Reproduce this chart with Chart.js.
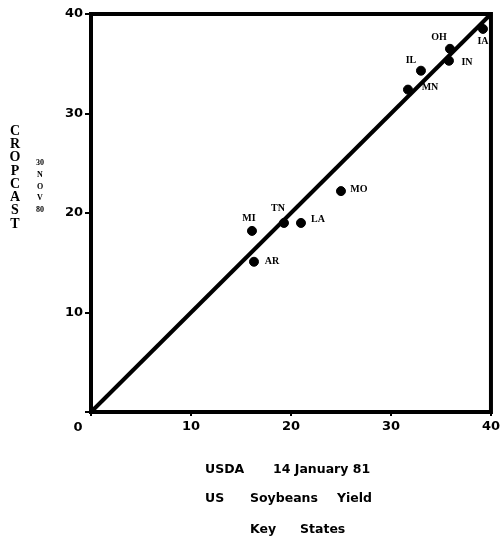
<!DOCTYPE html>
<html>
<head>
<meta charset="utf-8">
<script src="https://cdn.jsdelivr.net/npm/chart.js@4/dist/chart.umd.min.js"></script>
<style>
  html, body { margin: 0; padding: 0; background: #fff; }
  #wrap { width: 503px; height: 541px; }
</style>
</head>
<body>
<div id="wrap"><canvas id="chart" width="503" height="541"></canvas></div>
<script>
// Key states, USDA (14 Jan 81) vs CROPCAST (30 Nov 80) soybean yield
const states = ['IA', 'OH', 'IN', 'IL', 'MN', 'MO', 'TN', 'LA', 'MI', 'AR'];
const usdaYield = [39.2, 35.9, 35.8, 33.0, 31.7, 25.0, 19.3, 21.0, 16.1, 16.3];
const cropcastYield = [38.5, 36.5, 35.3, 34.3, 32.4, 22.2, 19.0, 19.0, 18.2, 15.1];
const axisTicks = [0, 10, 20, 30, 40];
const refLine = [0, 40];

// label placement relative to each dot (layout only)
const labelOffset = {
    IA: [0, 12], OH: [-11, -11], IN: [18, 2], IL: [-10, -10], MN: [22, -2],
    MO: [18, -2], TN: [-6, -15], LA: [17, -4], MI: [-3, -12], AR: [18, 0]
};

const extras = {
    id: 'extras',
    afterDatasetsDraw(chart) {
        const ctx = chart.ctx;
        const a = chart.chartArea;
        const xs = chart.scales.x, ys = chart.scales.y;
        ctx.save();

        // frame
        ctx.strokeStyle = '#000';
        ctx.lineWidth = 4;
        ctx.strokeRect(a.left, a.top, a.right - a.left, a.bottom - a.top);

        // point labels
        ctx.fillStyle = '#000';
        ctx.font = 'bold 10px "Liberation Serif"';
        ctx.textAlign = 'center';
        ctx.textBaseline = 'middle';
        states.forEach((s, i) => {
            const px = xs.getPixelForValue(usdaYield[i]);
            const py = ys.getPixelForValue(cropcastYield[i]);
            const o = labelOffset[s];
            ctx.fillText(s, px + o[0], py + o[1]);
        });

        // shared origin label
        ctx.font = 'bold 13px "DejaVu Sans"';
        ctx.fillText('0', xs.getPixelForValue(0) - 13, ys.getPixelForValue(0) + 16);

        // vertical y title
        ctx.font = 'bold 14px "Liberation Serif"';
        'CROPCAST'.split('').forEach((ch, i) => ctx.fillText(ch, 15, 131 + i * 13.3));
        ctx.font = 'bold 8px "Liberation Serif"';
        ['30', 'N', 'O', 'V', '80'].forEach((t, i) => ctx.fillText(t, 40, 163 + i * 11.8));

        // x caption
        ctx.font = 'bold 12.5px "DejaVu Sans"';
        ctx.textAlign = 'left';
        [['USDA', 205, 470], ['14 January 81', 273, 470],
         ['US', 205, 499], ['Soybeans', 250, 499], ['Yield', 337, 499],
         ['Key', 250, 530], ['States', 300, 530]].forEach(t => ctx.fillText(t[0], t[1], t[2]));
        ctx.restore();
    }
};

const axisStyle = {
    type: 'linear',
    min: 0,
    max: 40,
    border: { display: true, color: '#000', width: 4 },
    grid: { drawOnChartArea: false, color: '#000', lineWidth: 2, tickLength: 6 },
    afterBuildTicks: (scale) => { scale.ticks = axisTicks.map(v => ({ value: v })); }
};

new Chart(document.getElementById('chart'), {
    type: 'scatter',
    data: {
        datasets: [{
            type: 'line',
            data: refLine.map(v => ({ x: v, y: v })),
            borderColor: '#000',
            borderWidth: 4,
            pointRadius: 0,
            clip: false
        }, {
            data: usdaYield.map((v, i) => ({ x: v, y: cropcastYield[i] })),
            backgroundColor: '#000',
            borderColor: '#000',
            pointRadius: 4.5,
            clip: false
        }]
    },
    options: {
        responsive: false,
        animation: false,
        layout: { padding: { top: 14, right: 11, left: 0, bottom: 0 } },
        plugins: { legend: { display: false }, tooltip: { enabled: false } },
        scales: {
            x: {
                ...axisStyle,
                grid: { ...axisStyle.grid, tickLength: 4 },
                ticks: {
                    color: '#000', padding: 3,
                    font: { family: 'DejaVu Sans', size: 13, weight: 'bold' },
                    callback: v => (v === 0 ? '' : v)
                },
                afterFit: (s) => { s.height = 541 - 412; }
            },
            y: {
                ...axisStyle,
                ticks: {
                    color: '#000', padding: 2,
                    font: { family: 'DejaVu Sans', size: 13, weight: 'bold' },
                    callback: v => (v === 0 ? '' : v)
                },
                afterFit: (s) => { s.width = 91; }
            }
        }
    },
    plugins: [extras]
});
</script>
</body>
</html>
